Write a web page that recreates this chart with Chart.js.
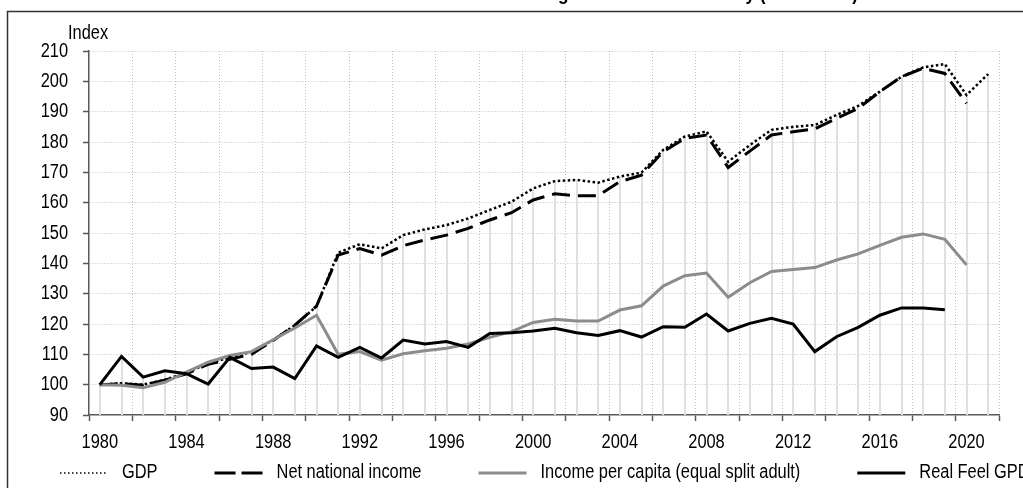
<!DOCTYPE html>
<html>
<head>
<meta charset="utf-8">
<script src="https://cdn.jsdelivr.net/npm/chart.js@4/dist/chart.umd.min.js"></script>
<style>
  html, body { margin: 0; padding: 0; background: #fff; }
  #wrap { position: relative; width: 1023px; height: 488px; overflow: hidden; }
</style>
</head>
<body>
<div id="wrap"><canvas id="myChart" width="1023" height="488"></canvas></div>
<script>
  // data, index 1980 = 100
  const years = [
    '1980', '1981', '1982', '1983', '1984', '1985', '1986', '1987', '1988', '1989',
    '1990', '1991', '1992', '1993', '1994', '1995', '1996', '1997', '1998', '1999',
    '2000', '2001', '2002', '2003', '2004', '2005', '2006', '2007', '2008', '2009',
    '2010', '2011', '2012', '2013', '2014', '2015', '2016', '2017', '2018', '2019',
    '2020', '2021'
  ];
  const gdp = [
    100, 100.5, 100.0, 101.6, 104.0, 107.0, 109.0, 110.8, 114.7, 119.6,
    125.8, 143.5, 146.3, 144.9, 149.3, 151.2, 152.6, 154.8, 157.6, 160.3,
    164.7, 167.1, 167.5, 166.6, 168.6, 169.9, 177.4, 181.8, 183.5, 173.5,
    179.0, 184.0, 185.0, 185.6, 188.9, 191.9, 196.6, 201.5, 204.6, 205.7,
    195.5, 202.4
  ];
  const netNationalIncome = [
    100, 100.3, 99.8, 101.5, 103.6, 106.7, 108.4, 110.0, 114.6, 119.6,
    125.9, 142.7, 144.9, 142.7, 145.8, 147.7, 149.3, 151.5, 154.3, 156.7,
    160.9, 162.9, 162.3, 162.3, 166.9, 169.1, 176.8, 181.2, 182.3, 171.6,
    177.0, 182.3, 183.4, 184.3, 187.8, 191.1, 196.6, 201.5, 204.3, 202.6,
    192.7, null
  ];
  const incomePerCapita = [
    100, 99.8, 99.0, 100.8, 104.1, 107.4, 109.6, 110.9, 114.8, 118.7,
    122.9, 110.0, 110.9, 108.1, 110.2, 111.2, 112.0, 113.4, 115.6, 117.5,
    120.5, 121.6, 121.0, 121.0, 124.6, 126.0, 132.5, 135.9, 136.8, 128.8,
    133.6, 137.3, 138.0, 138.6, 141.1, 143.1, 145.9, 148.6, 149.7, 147.9,
    139.5, null
  ];
  const realFeelGdp = [
    100, 109.3, 102.5, 104.6, 103.6, 100.2, 109.0, 105.3, 105.8, 102.0,
    112.8, 109.0, 112.3, 108.8, 114.7, 113.4, 114.2, 112.3, 116.9, 117.1,
    117.7, 118.6, 117.1, 116.2, 117.8, 115.7, 119.1, 118.9, 123.3, 117.7,
    120.2, 121.9, 120.0, 110.9, 115.8, 118.9, 122.9, 125.3, 125.3, 124.7,
    null, null
  ];
  const xTickLabels = ['1980', '1984', '1988', '1992', '1996', '2000', '2004', '2008', '2012', '2016', '2020'];
  const yMin = 90;
  const yMax = 210;
  const yStep = 10;

  const FONT = "'Liberation Sans', Arial, sans-serif";
  const FSIZE = 20;
  const NARROW = 0.82; // the original uses a condensed face, squeeze regular one
  const GRID = '#bfbfbf';
  const AXIS = '#595959';
  const NONE = 'rgba(0,0,0,0)';

  const series = [
    { label: 'GDP', data: gdp, color: '#000', width: 2.5, dash: [2.5, 2.5], legendWidth: 1.5, legendDash: [1.5, 2.5] },
    { label: 'Net national income', data: netNationalIncome, color: '#000', width: 3, dash: [18, 8], legendWidth: 3, legendDash: [21, 6] },
    { label: 'Income per capita (equal split adult)', data: incomePerCapita, color: '#8c8c8c', width: 3, dash: [], legendWidth: 3, legendDash: [] },
    { label: 'Real Feel GPD', data: realFeelGdp, color: '#000', width: 3, dash: [], legendWidth: 3, legendDash: [] }
  ];

  const drawNarrow = (ctx, text, x, y, align, font) => {
    ctx.save();
    ctx.font = font || (FSIZE + 'px ' + FONT);
    ctx.translate(x, y);
    ctx.scale(NARROW, 1);
    ctx.textAlign = align;
    ctx.fillText(text, 0, 0);
    ctx.restore();
  };

  // light grey drop lines from the highest point of each year down to the axis
  const dropLines = {
    id: 'dropLines',
    beforeDatasetsDraw(chart) {
      const {ctx, scales: {x, y}} = chart;
      ctx.save();
      ctx.strokeStyle = '#e0e0e0';
      ctx.lineWidth = 2;
      years.forEach((yr, i) => {
        const vals = series.map(s => s.data[i]).filter(v => v !== null);
        if (!vals.length) return;
        const px = Math.round(x.getPixelForValue(i));
        ctx.beginPath();
        ctx.moveTo(px, y.getPixelForValue(Math.max(...vals)));
        ctx.lineTo(px, y.bottom);
        ctx.stroke();
      });
      ctx.restore();
    }
  };

  // frame, clipped title, tick labels, axis caption and legend
  const decorations = {
    id: 'decorations',
    afterDraw(chart) {
      const {ctx, scales: {x, y}} = chart;
      ctx.save();
      ctx.strokeStyle = '#333';
      ctx.lineWidth = 1.5;
      ctx.beginPath();
      ctx.moveTo(7.5, 600);
      ctx.lineTo(7.5, 11.5);
      ctx.lineTo(1100, 11.5);
      ctx.stroke();

      ctx.fillStyle = '#000';
      ctx.textBaseline = 'alphabetic';
      drawNarrow(ctx, 'Growth of real national income and living standards in Germany (1980 = 100)', 858, 0, 'right', 'bold 21px ' + FONT);
      drawNarrow(ctx, 'Index', 68, 39, 'left');

      // tick labels placed through the scales
      ctx.textBaseline = 'middle';
      x.ticks.forEach((t, i) => {
        if (xTickLabels.includes(years[i])) {
          drawNarrow(ctx, years[i], x.getPixelForTick(i), 442, 'center');
        }
      });
      y.ticks.forEach(t => {
        drawNarrow(ctx, String(t.value), 68, y.getPixelForValue(t.value), 'right');
      });

      // legend, laid out left to right like the original
      ctx.font = FSIZE + 'px ' + FONT;
      const ly = 472.5;
      const sampleW = 48;
      const textGap = 14;
      const itemGap = 57;
      let lx = 60;
      series.forEach(s => {
        ctx.beginPath();
        ctx.strokeStyle = s.color;
        ctx.lineWidth = s.legendWidth;
        ctx.setLineDash(s.legendDash);
        ctx.moveTo(lx, ly + 0.5);
        ctx.lineTo(lx + sampleW, ly + 0.5);
        ctx.stroke();
        ctx.setLineDash([]);
        const tx = lx + sampleW + textGap;
        drawNarrow(ctx, s.label, tx, ly, 'left');
        lx = tx + ctx.measureText(s.label).width * NARROW + itemGap;
      });
      ctx.restore();
    }
  };

  const ctx = document.getElementById('myChart').getContext('2d');
  // eslint-disable-next-line no-unused-vars
  const chart = new Chart(ctx, {
    type: 'line',
    data: {
      labels: years,
      datasets: series.map(s => ({
        label: s.label,
        data: s.data,
        borderColor: s.color,
        backgroundColor: s.color,
        borderWidth: s.width,
        borderDash: s.dash,
        borderCapStyle: 'butt',
        borderJoinStyle: 'miter',
        pointRadius: 0,
        tension: 0,
        spanGaps: false,
        fill: false
      })).reverse()
    },
    options: {
      responsive: false,
      animation: false,
      events: [],
      layout: { padding: { top: 51, right: 24, left: 0, bottom: 0 } },
      plugins: {
        legend: { display: false },
        tooltip: { enabled: false },
        title: { display: false }
      },
      scales: {
        x: {
          type: 'category',
          offset: true,
          grid: {
            offset: true,
            lineWidth: 1,
            color: (c) => (c.index === undefined || (c.index % 2 === 0 && c.index > 0)) ? GRID : NONE,
            tickColor: (c) => (c.index === undefined || c.index % 2 === 0) ? AXIS : NONE,
            tickLength: 6,
            tickWidth: 1.5
          },
          border: { color: AXIS, width: 1.5, dash: [1, 2] },
          ticks: { autoSkip: false, maxRotation: 0, minRotation: 0, display: false },
          afterFit: (s) => { s.height = 73; }
        },
        y: {
          min: yMin,
          max: yMax,
          grid: {
            lineWidth: 1,
            color: (c) => c.tick && c.tick.value === yMin ? NONE : GRID,
            tickColor: AXIS,
            tickLength: 6,
            tickWidth: 1.5
          },
          border: { color: AXIS, width: 1.5, dash: [1, 2] },
          ticks: { stepSize: yStep, display: false },
          afterFit: (s) => { s.width = 89; }
        }
      }
    },
    plugins: [dropLines, decorations]
  });
</script>
</body>
</html>
